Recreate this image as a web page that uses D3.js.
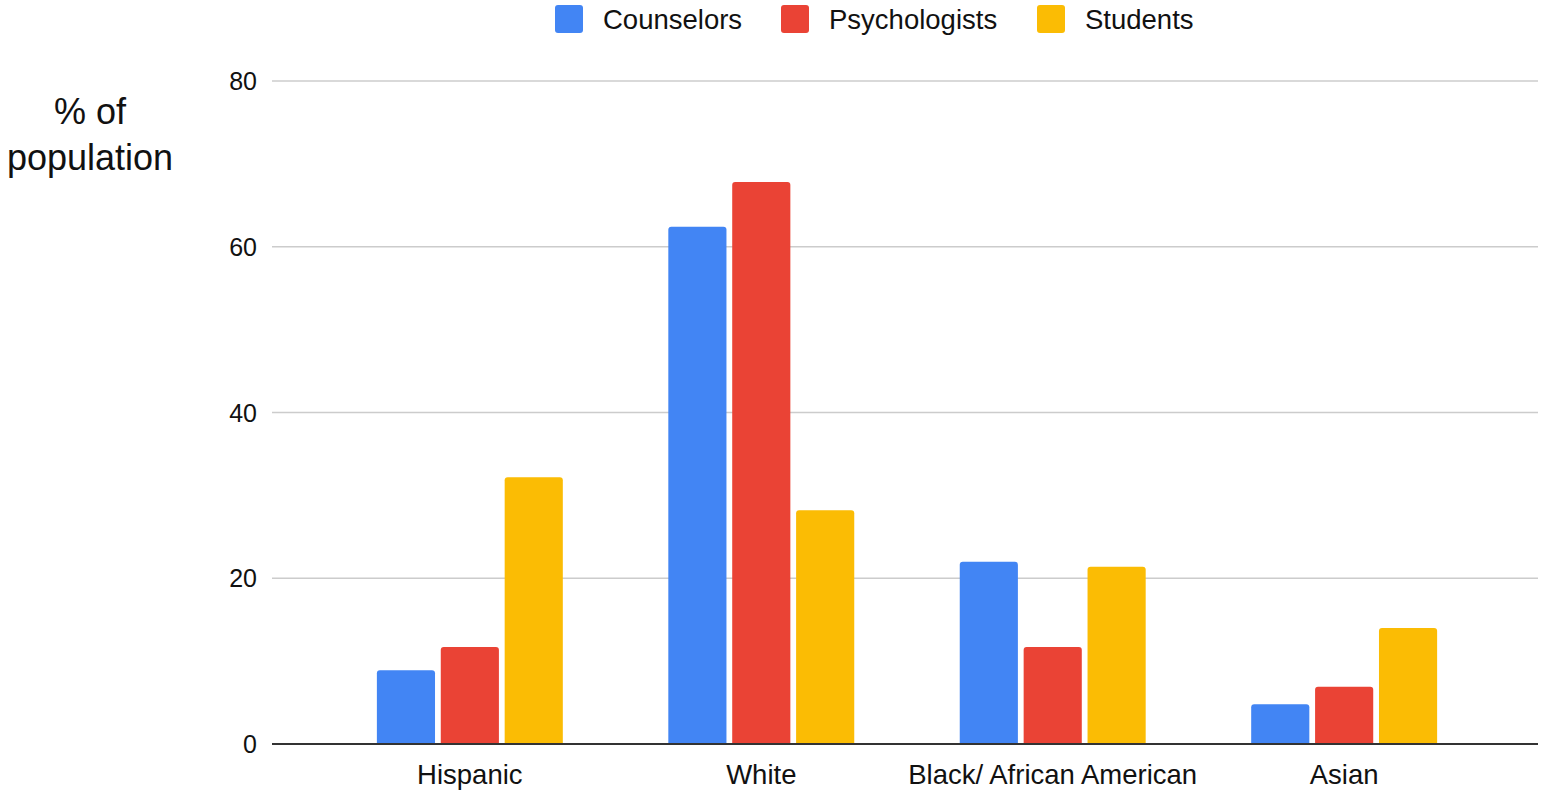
<!DOCTYPE html>
<html>
<head>
<meta charset="utf-8">
<script src="https://cdn.jsdelivr.net/npm/d3@7"></script>
<style>
  body { margin: 0; background: #fff; }
  text { font-family: "Liberation Sans", Arial, sans-serif; fill: #111; }
</style>
</head>
<body>
<div id="chart"></div>
<script>
var width = 1543
var height = 791

var categories = ["Hispanic", "White", "Black/ African American", "Asian"]
var series = ["Counselors", "Psychologists", "Students"]
var colors = ["#4285f4", "#ea4335", "#fbbc04"]
var counselors = [8.9, 62.4, 22, 4.8]
var psychologists = [11.7, 67.8, 11.7, 6.9]
var students = [32.2, 28.2, 21.4, 14]
var yTicks = [0, 20, 40, 60, 80]

var values = [counselors, psychologists, students]

var svg = d3.select("#chart")
    .append("svg")
    .attr("width", width)
    .attr("height", height)

var x0 = d3.scaleBand()
    .domain(categories)
    .range([274, 1540])
    .paddingInner(0.362)
    .paddingOuter(0.353)

var x1 = d3.scaleBand()
    .domain(series)
    .range([0, x0.bandwidth()])
    .paddingInner(0.09)

var y = d3.scaleLinear()
    .domain([0, 80])
    .range([744, 81])

// grid lines
svg.append("g")
    .selectAll("line")
    .data(yTicks.filter(d => d > 0))
    .enter()
    .append("line")
        .attr("x1", 272)
        .attr("x2", 1538)
        .attr("y1", d => y(d))
        .attr("y2", d => y(d))
        .style("stroke", "#cccccc")
        .style("stroke-width", 1.5)

// tick labels
svg.append("g")
    .selectAll("text")
    .data(yTicks)
    .enter()
    .append("text")
        .attr("x", 257)
        .attr("y", d => y(d))
        .attr("dy", "0.36em")
        .style("text-anchor", "end")
        .style("font-size", "25px")
        .text(d => d)

// bars, rounded top corners
var r = 3
function barPath(x, yTop, w, yBase) {
    var h = yBase - yTop
    var rr = Math.min(r, h)
    return "M" + x + "," + yBase +
        "V" + (yTop + rr) +
        "Q" + x + "," + yTop + " " + (x + rr) + "," + yTop +
        "H" + (x + w - rr) +
        "Q" + (x + w) + "," + yTop + " " + (x + w) + "," + (yTop + rr) +
        "V" + yBase + "Z"
}

var group = svg.append("g")
    .selectAll("g")
    .data(categories)
    .enter()
    .append("g")
    .attr("transform", d => "translate(" + x0(d) + ",0)")

group.selectAll("path")
    .data((d, i) => series.map((s, j) => ({ s: s, j: j, v: values[j][i] })))
    .enter()
    .append("path")
        .attr("d", d => barPath(x1(d.s), y(d.v), x1.bandwidth(), y(0)))
        .style("fill", d => colors[d.j])

// baseline
svg.append("line")
    .attr("x1", 272)
    .attr("x2", 1538)
    .attr("y1", y(0))
    .attr("y2", y(0))
    .style("stroke", "#333")
    .style("stroke-width", 2)

// category labels
svg.append("g")
    .selectAll("text")
    .data(categories)
    .enter()
    .append("text")
        .attr("x", d => x0(d) + x0.bandwidth() / 2)
        .attr("y", 784)
        .style("text-anchor", "middle")
        .style("font-size", "27.5px")
        .text(d => d)

// y title
var title = svg.append("text")
    .attr("x", 90)
    .attr("y", 124)
    .style("text-anchor", "middle")
    .style("font-size", "36px")
title.append("tspan").attr("x", 90).text("% of")
title.append("tspan").attr("x", 90).attr("dy", 46).text("population")

// legend
var legendX = [555, 781, 1037]
var legend = svg.append("g")
    .selectAll("g")
    .data(series)
    .enter()
    .append("g")
    .attr("transform", (d, i) => "translate(" + legendX[i] + ",5)")

legend.append("rect")
    .attr("width", 28)
    .attr("height", 28)
    .attr("rx", 3)
    .style("fill", (d, i) => colors[i])

legend.append("text")
    .attr("x", 48)
    .attr("y", 14)
    .attr("dy", "0.36em")
    .style("font-size", "27.5px")
    .text(d => d)
</script>
</body>
</html>
